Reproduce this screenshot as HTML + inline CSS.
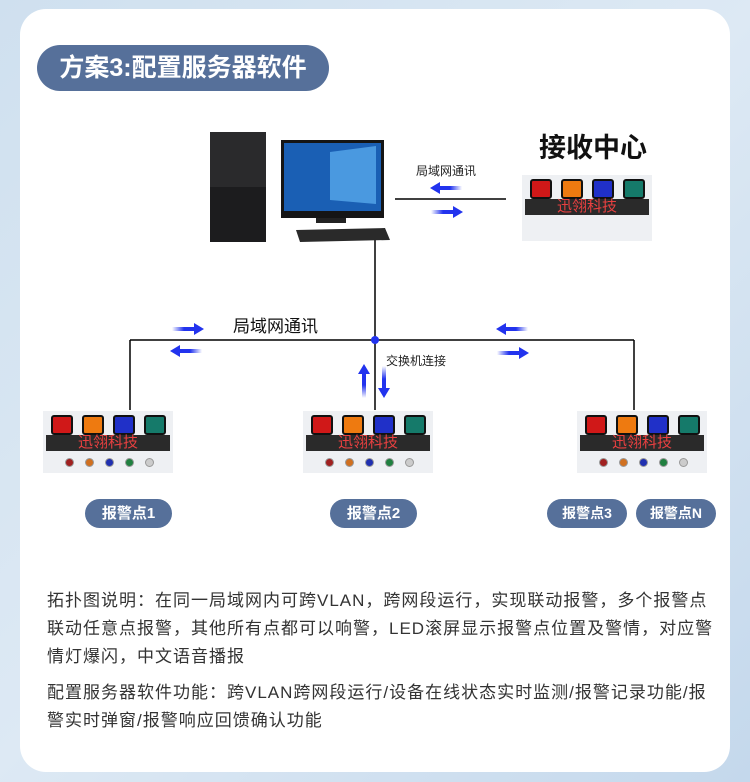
<!DOCTYPE html>
<html><head><meta charset="utf-8"><style>
body{margin:0;width:750px;height:782px;overflow:hidden;background:linear-gradient(135deg,#cfe0ef,#dde9f4 50%,#c4d8ec);font-family:"Liberation Sans","Noto Sans CJK SC",sans-serif;position:relative}
.card{position:absolute;left:20px;top:9px;width:710px;height:763px;background:#fff;border-radius:26px}
.pill{position:absolute;background:#56709a;color:#fff;font-weight:bold;text-align:center;border-radius:16px}
.dev{position:absolute;width:130px;height:60px;background:#eef0f3}
.txt{position:absolute;left:47px;width:690px;font-size:17px;letter-spacing:1px;line-height:28px;color:#333;white-space:nowrap}
</style></head><body>
<div class="card"></div>
<div class="pill" style="left:37px;top:45px;width:292px;height:46px;line-height:46px;font-size:25px;border-radius:23px">方案3:配置服务器软件</div>

<svg style="position:absolute;left:0;top:0" width="750" height="782">
<defs>
<linearGradient id="gr" x1="0" x2="1"><stop offset="0" stop-color="#2233ee" stop-opacity="0"/><stop offset="0.5" stop-color="#2233ee"/></linearGradient>
<linearGradient id="gl" x1="1" x2="0"><stop offset="0" stop-color="#2233ee" stop-opacity="0"/><stop offset="0.5" stop-color="#2233ee"/></linearGradient>
<linearGradient id="gu" x1="0" y1="1" x2="0" y2="0"><stop offset="0" stop-color="#2233ee" stop-opacity="0"/><stop offset="0.5" stop-color="#2233ee"/></linearGradient>
<linearGradient id="gd" x1="0" y1="0" x2="0" y2="1"><stop offset="0" stop-color="#2233ee" stop-opacity="0"/><stop offset="0.5" stop-color="#2233ee"/></linearGradient>
<g id="ar"><rect x="0" y="-2" width="24" height="4" fill="url(#gr)"/><polygon points="22,-6 32,0 22,6" fill="#2233ee"/></g>
<g id="al"><rect x="8" y="-2" width="24" height="4" fill="url(#gl)"/><polygon points="10,-6 0,0 10,6" fill="#2233ee"/></g>
</defs>
<g stroke="#000" stroke-width="1.5" fill="none">
<line x1="375" y1="230" x2="375" y2="410"/>
<line x1="130" y1="340" x2="634" y2="340"/>
<line x1="130" y1="340" x2="130" y2="410"/>
<line x1="634" y1="340" x2="634" y2="410"/>
<line x1="395" y1="199" x2="506" y2="199"/>
</g>
<circle cx="375" cy="340" r="4" fill="#2233ee"/>
<use href="#al" x="430" y="188"/><use href="#ar" x="431" y="212"/>
<use href="#ar" x="172" y="329"/><use href="#al" x="170" y="351"/>
<use href="#al" x="496" y="329"/><use href="#ar" x="497" y="353"/>
<rect x="362" y="372" width="4" height="26" fill="url(#gu)"/><polygon points="358,374 364,364 370,374" fill="#2233ee"/>
<rect x="382" y="366" width="4" height="26" fill="url(#gd)"/><polygon points="378,388 384,398 390,388" fill="#2233ee"/>
<rect x="210" y="132" width="56" height="110" fill="#1c1c1e"/>
<rect x="210" y="132" width="56" height="55" fill="#2a2a2c"/>
<rect x="281" y="140" width="103" height="78" fill="#151515"/>
<rect x="284" y="143" width="97" height="68" fill="#1a5fb4"/>
<polygon points="330,152 376,146 376,204 330,200" fill="#5fb2f2" opacity=".7"/>
<rect x="316" y="218" width="30" height="5" fill="#222"/>
<polygon points="296,230 385,228 390,240 300,242" fill="#2a2a2a"/>
</svg>

<div style="position:absolute;left:539px;top:126px;font-size:27px;font-weight:bold;color:#111">接收中心</div>
<div style="position:absolute;left:416px;top:162px;font-size:12px;color:#222">局域网通讯</div>
<div style="position:absolute;left:233px;top:312px;font-size:17px;color:#111">局域网通讯</div>
<div style="position:absolute;left:386px;top:352px;font-size:12px;color:#222">交换机连接</div>

<div id="devs"></div>
<script>
function dev(x,y,knobs){
 var h='<div class="dev" style="left:'+x+'px;top:'+y+'px;height:'+(knobs?62:66)+'px">';
 var c=['#d01818','#ee7a10','#2030c8','#157a6a'];
 for(var i=0;i<4;i++)h+='<div style="position:absolute;left:'+(8+i*31)+'px;top:4px;width:18px;height:16px;background:'+c[i]+';border:2px solid #111;border-radius:3px"></div>';
 h+='<div style="position:absolute;left:3px;top:24px;width:124px;height:16px;background:#2a2a2a;color:#e84040;font-size:15px;line-height:16px;text-align:center">迅翎科技</div>';
 if(knobs){var k=['#a02020','#d07020','#2030b0','#208040','#ccc'];for(var j=0;j<5;j++)h+='<div style="position:absolute;left:'+(22+j*20)+'px;top:47px;width:7px;height:7px;border-radius:50%;background:'+k[j]+';border:1px solid #999"></div>';}
 return h+'</div>';
}
document.getElementById('devs').innerHTML=dev(522,175,false)+dev(43,411,true)+dev(303,411,true)+dev(577,411,true);
</script>

<div class="pill" style="left:85px;top:499px;width:87px;height:29px;line-height:29px;font-size:15px">报警点1</div>
<div class="pill" style="left:330px;top:499px;width:87px;height:29px;line-height:29px;font-size:15px">报警点2</div>
<div class="pill" style="left:547px;top:499px;width:80px;height:29px;line-height:29px;font-size:14px">报警点3</div>
<div class="pill" style="left:636px;top:499px;width:80px;height:29px;line-height:29px;font-size:14px">报警点N</div>

<div class="txt" style="top:587px">拓扑图说明：在同一局域网内可跨VLAN，跨网段运行，实现联动报警，多个报警点<br>联动任意点报警，其他所有点都可以响警，LED滚屏显示报警点位置及警情，对应警<br>情灯爆闪，中文语音播报</div>
<div class="txt" style="top:679px">配置服务器软件功能：跨VLAN跨网段运行/设备在线状态实时监测/报警记录功能/报<br>警实时弹窗/报警响应回馈确认功能</div>
</body></html>
